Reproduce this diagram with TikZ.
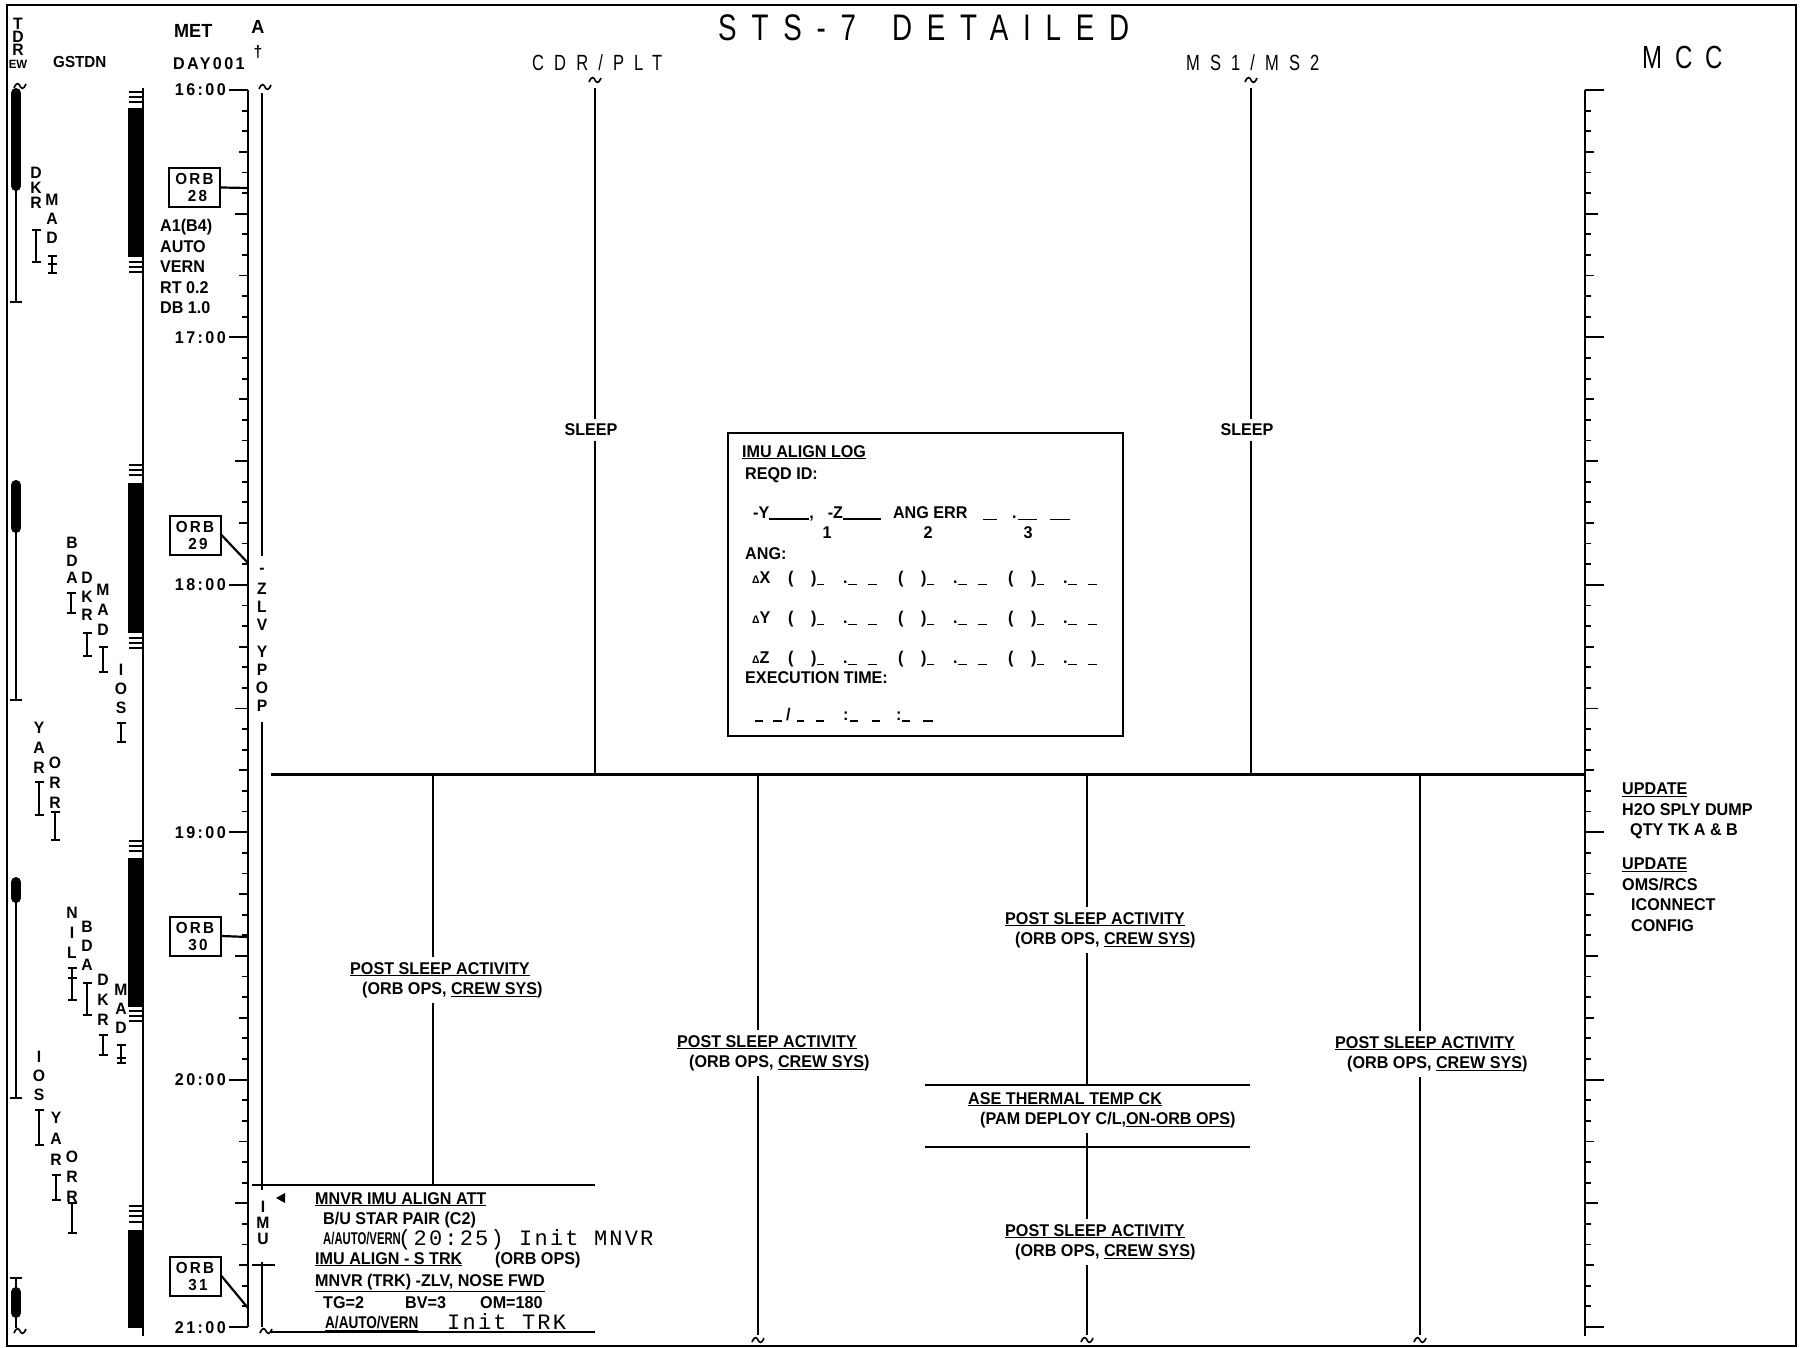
\documentclass[tikz,border=0pt]{standalone}
\usepackage{graphicx}
\usepackage{fontspec}
\setmainfont{Liberation Sans}
\newfontfamily\bodyfont[FakeStretch=0.95]{Liberation Sans}
\newfontfamily\orbfont[FakeStretch=0.95,LetterSpace=14]{Liberation Sans}
\newfontfamily\headfont[FakeStretch=0.75]{Liberation Sans}
\newfontfamily\typefont[LetterSpace=10]{Liberation Mono}
\newcommand\vlett[5]{\foreach \lt [count=\i from 0] in {#5}{\node[stn] (#1-\i) at (#2,#3+\i*#4) {\lt};}}
\newcommand\ibar[4]{%
  \coordinate (#4a) at (#1,#2); \coordinate (#4b) at (#1,#3);
  \draw[bar] (#4a) -- (#4b);
  \draw[bar] ([xshift=-4.5pt]#4a) -- ([xshift=4.5pt]#4a);
  \draw[bar] ([xshift=-4.5pt]#4b) -- ([xshift=4.5pt]#4b);}
\newcommand\eqm[1]{\foreach \q in {0,5,10}{\draw[line width=1.6pt] (129,#1+\q) -- (143,#1+\q);}}
\begin{document}
\begin{tikzpicture}[x=1pt,y=-1pt,
  stn/.style={font=\bodyfont\bfseries\fontsize{16.5}{16.5}\selectfont, inner sep=0pt},
  lbl/.style={font=\bodyfont\bfseries\fontsize{17}{20.5}\selectfont, inner sep=0pt, align=left},
  bar/.style={line width=2pt},
  ln/.style={line width=2.2pt},
  tk/.style={line width=1.8pt},
  rl/.style={line width=1.5pt},
  orb/.style={draw, line width=2pt, inner sep=0pt, minimum width=51pt, minimum height=39pt, align=center, font=\orbfont\bfseries\fontsize{16}{17}\selectfont},
  tildepic/.pic={\draw[line width=1.6pt] (-6,2) .. controls (-3,-5) and (-1,-2) .. (0,0) .. controls (1,2) and (3,5) .. (6,-2);},
  typ/.style={font=\typefont\fontsize{22}{22}\selectfont, inner sep=0pt}
]
\useasboundingbox (0,0) rectangle (1800,1348);
\draw[line width=2.5pt] (7,5) rectangle (1796,1346);

% ---------- headings ----------
\node[font=\headfont\addfontfeatures{LetterSpace=40}\fontsize{37}{37}\selectfont, inner sep=0pt, anchor=base west] (title) at (718,41) {STS-7\hspace{36pt}DETAILED};
\node[font=\headfont\addfontfeatures{LetterSpace=46}\fontsize{22}{22}\selectfont, inner sep=0pt, anchor=base west] (cdr) at (532,71) {CDR/PLT};
\node[font=\headfont\addfontfeatures{LetterSpace=46}\fontsize{22}{22}\selectfont, inner sep=0pt, anchor=base west] (ms) at (1186,71) {MS1/MS2};
\node[font=\headfont\addfontfeatures{LetterSpace=40}\fontsize{32}{32}\selectfont, inner sep=0pt, anchor=base west] (mcc) at (1642,69) {MCC};
\node[font=\bodyfont\bfseries\fontsize{19}{19}\selectfont, inner sep=0pt, anchor=base west] (met) at (174,38) {MET};
\node[font=\orbfont\bfseries\fontsize{17}{17}\selectfont, inner sep=0pt, anchor=base west] (day) at (173,70) {DAY001};
\node[font=\bodyfont\bfseries\fontsize{16}{16}\selectfont, inner sep=0pt, anchor=base west] (gstdn) at (53,68) {GSTDN};
\vlett{td}{18}{24}{13}{T,D,R}
\node[font=\bodyfont\bfseries\fontsize{12}{12}\selectfont, inner sep=0pt] (tdew) at (18,64) {EW};
\node[stn, font=\bodyfont\bfseries\fontsize{19}{19}\selectfont] (attA) at (258,27) {A};
\node[stn] (attB) at (258,52) {†};

% ---------- TDRS column ----------
\draw[line width=1.8pt] (16,90) -- (16,302);
\draw[line width=10pt, line cap=round] (16,93) -- (16,186);
\draw[line width=1.8pt] (10,302) -- (22,302);
\pic at (20,86) {tildepic};
\draw[line width=1.8pt] (16,480) -- (16,700);
\draw[line width=10pt, line cap=round] (16,485) -- (16,528);
\draw[line width=1.8pt] (10,700) -- (22,700);
\draw[line width=1.8pt] (16,878) -- (16,1098);
\draw[line width=10pt, line cap=round] (16,882) -- (16,898);
\draw[line width=1.8pt] (10,1098) -- (22,1098);
\draw[line width=1.8pt] (10,1278) -- (22,1278);
\draw[line width=1.8pt] (16,1278) -- (16,1328);
\draw[line width=10pt, line cap=round] (16,1292) -- (16,1313);
\pic at (20,1331) {tildepic};

% ---------- GSTDN column ----------
\draw[line width=2pt] (143,88) -- (143,1336);
\fill (128,108) rectangle (144,257);
\fill (128,483) rectangle (144,633);
\fill (128,858) rectangle (144,1007);
\fill (128,1230) rectangle (144,1328);
\eqm{92} \eqm{262} \eqm{465} \eqm{638} \eqm{841} \eqm{1011} \eqm{1206}
\draw[line width=1.6pt] (129,1222) -- (143,1222);

% ---------- ground stations ----------
\vlett{s1}{36}{173}{15}{D,K,R} \ibar{36}{230}{262}{b1}
\vlett{s2}{52}{200}{19}{M,A,D} \ibar{52}{256}{273}{b2}
\draw[bar] (47.5,264) -- (56.5,264);
\vlett{s3}{72}{543}{17.5}{B,D,A} \ibar{71}{593}{613}{b3}
\vlett{s4}{87}{578}{18.5}{D,K,R} \ibar{87}{633}{656}{b4}
\vlett{s5}{103}{590}{20}{M,A,D} \ibar{103}{647}{672}{b5}
\vlett{s6}{121}{670}{19}{I,O,S} \ibar{121}{723}{742}{b6}
\vlett{s7}{39}{728}{20}{Y,A,R} \ibar{39}{782}{815}{b7}
\vlett{s8}{55}{763}{20}{O,R,R} \ibar{55}{812}{840}{b8}
\vlett{s9}{72}{913}{20}{N,I,L} \ibar{72}{968}{1000}{b9}
\draw[bar] (67.5,978) -- (76.5,978);
\vlett{s10}{87}{927}{19}{B,D,A} \ibar{87}{983}{1015}{b10}
\vlett{s11}{103}{980}{20}{D,K,R} \ibar{103}{1035}{1055}{b11}
\vlett{s12}{121}{990}{19}{M,A,D} \ibar{121}{1045}{1063}{b12}
\draw[bar] (116.5,1058) -- (125.5,1058);
\vlett{s13}{39}{1057}{19}{I,O,S} \ibar{39}{1110}{1145}{b13}
\vlett{s14}{56}{1118}{21}{Y,A,R} \ibar{56}{1175}{1200}{b14}
\vlett{s15}{72}{1157}{20}{O,R,R} \ibar{72}{1203}{1233}{b15}

% ---------- MET axis and MCC axis ----------
\draw[line width=2.4pt] (248,90) -- (248,1327);
\draw[line width=2.4pt] (1585,90) -- (1585,1336);
\foreach \m in {0,5,...,300}{
  \pgfmathsetmacro\yy{90+\m*4.1233}
  \pgfmathsetmacro\len{ifthenelse(mod(\m,60)==0,19,ifthenelse(mod(\m,30)==0,13,ifthenelse(mod(\m,15)==0,9,6)))}
  \draw[tk] (248-\len,\yy) -- (248,\yy);
  \draw[tk] (1585,\yy) -- (1585+\len,\yy);
}
\foreach \h/\m in {16/0,17/60,18/120,19/180,20/240,21/300}{
  \node[lbl, font=\orbfont\bfseries\fontsize{17}{17}\selectfont, anchor=base east] (h\h) at (226,96+\m*4.1233) {\h:00};
}

% ---------- ORB boxes ----------
\node[orb] (orb28) at (194.5,187.5) {ORB\\\hspace*{6pt}28};
\node[orb] (orb29) at (195,535) {ORB\\\hspace*{6pt}29};
\node[orb] (orb30) at (195,936) {ORB\\\hspace*{6pt}30};
\node[orb] (orb31) at (195,1276) {ORB\\\hspace*{6pt}31};
\coordinate (a28) at (248,188);
\coordinate (a29) at (248,563);
\coordinate (a30) at (248,937);
\coordinate (a31) at (248,1308);
\draw[ln] (orb28.east) -- (a28);
\draw[ln] (orb29.east) -- (a29);
\draw[ln] (orb30.east) -- (a30);
\draw[ln] (orb31.east) -- (a31);
\node[lbl, anchor=north west, font=\bodyfont\bfseries\fontsize{17}{20.6}\selectfont] (att1) at (160,219) {A1(B4)\\AUTO\\VERN\\RT 0.2\\DB 1.0};

% ---------- attitude column ----------
\pic at (265,87) {tildepic};
\draw[ln] (262,93) -- (262,556);
\vlett{zl}{262}{571}{18}{-,Z,L,V}
\vlett{yp}{262}{652}{18}{Y,P,O,P}
\draw[ln] (262,722) -- (262,1190);
\vlett{imu}{263}{1207}{16}{I,M,U}
\draw[ln] (252,1265) -- (275,1265);
\draw[ln] (262,1262) -- (262,1327);
\pic at (266,1331) {tildepic};

% ---------- crew columns (sleep) ----------
\coordinate (cdrT) at (595,88);
\coordinate (cdrB) at (595,774);
\coordinate (msT) at (1251,88);
\coordinate (msB) at (1251,774);
\pic at (595,80) {tildepic};
\pic at (1251,80) {tildepic};
\node[lbl] (sl1) at (591,430) {SLEEP};
\node[lbl] (sl2) at (1247,430) {SLEEP};
\draw[ln] (cdrT) -- ([yshift=5pt]cdrT |- sl1.north);
\draw[ln] ([yshift=-5pt]cdrT |- sl1.south) -- (cdrB);
\draw[ln] (msT) -- ([yshift=5pt]msT |- sl2.north);
\draw[ln] ([yshift=-5pt]msT |- sl2.south) -- (msB);
\draw[line width=3pt] (271,774) -- (1585,774);

% ---------- IMU ALIGN LOG ----------
\node[draw, line width=2pt, minimum width=395pt, minimum height=303pt, inner sep=0pt, anchor=north west] (imubox) at (727,432) {};
\node[lbl, anchor=base west] (il1) at (742,457) {\underline{IMU ALIGN LOG}};
\node[lbl, anchor=base west] (il2) at (745,479) {REQD ID:};
\node[lbl, anchor=base west] (il3) at (753,518) {-Y\rule[-1.5pt]{40pt}{1.5pt},\hspace{14pt}-Z\rule[-1.5pt]{38pt}{1.5pt}\hspace{12pt}ANG ERR};
\draw[rl] (983,519.5) -- (997,519.5);
\node[lbl, anchor=base west] (il3d) at (1012,518) {.};
\draw[rl] (1018,519.5) -- (1037,519.5);
\draw[rl] (1050,519.5) -- (1070,519.5);
\node[lbl] (sub1) at (827,533) {1};
\node[lbl] (sub2) at (928,533) {2};
\node[lbl] (sub3) at (1028,533) {3};
\node[lbl, anchor=base west] (il4) at (745,559) {ANG:};
\foreach \yy/\ax in {583/X,623/Y,663/Z}{
  \node[lbl, anchor=base west] (d\ax) at (752,\yy) {{\fontsize{11}{11}\selectfont Δ}\ax};
  \foreach \g in {788,898,1008}{
    \node[lbl, anchor=base west] (po\ax\g) at (\g,\yy) {(};
    \node[lbl, anchor=base west] (pc\ax\g) at (\g+23,\yy) {)};
    \draw[rl] (\g+29,\yy+1.5) -- (\g+36,\yy+1.5);
    \node[lbl, anchor=base west] (pd\ax\g) at (\g+55,\yy) {.};
    \draw[rl] (\g+60,\yy+1.5) -- (\g+69,\yy+1.5);
    \draw[rl] (\g+80,\yy+1.5) -- (\g+89,\yy+1.5);
  }
}
\node[lbl, anchor=base west] (il5) at (745,683) {EXECUTION TIME:};
\foreach \a/\b in {755/763,773/782,797/804,816/824,850/858,872/880,902/910,923/933}{
  \draw[rl] (\a,721) -- (\b,721);
}
\node[lbl, anchor=base west] (ts1) at (786,720) {/};
\node[lbl, anchor=base west] (ts2) at (843,720) {:};
\node[lbl, anchor=base west] (ts3) at (896,720) {:};

% ---------- lower activity columns ----------
\node[lbl, anchor=north west] (ps1) at (350,962) {\underline{POST SLEEP ACTIVITY}\\\hspace*{12pt}(ORB OPS, \underline{CREW SYS})};
\node[lbl, anchor=north west] (ps2) at (677,1035) {\underline{POST SLEEP ACTIVITY}\\\hspace*{12pt}(ORB OPS, \underline{CREW SYS})};
\node[lbl, anchor=north west] (ps3) at (1005,912) {\underline{POST SLEEP ACTIVITY}\\\hspace*{10pt}(ORB OPS, \underline{CREW SYS})};
\node[lbl, anchor=north west] (ps4) at (1005,1224) {\underline{POST SLEEP ACTIVITY}\\\hspace*{10pt}(ORB OPS, \underline{CREW SYS})};
\node[lbl, anchor=north west] (ps5) at (1335,1036) {\underline{POST SLEEP ACTIVITY}\\\hspace*{12pt}(ORB OPS, \underline{CREW SYS})};
\node[lbl, anchor=north west] (ase) at (968,1092) {\underline{ASE THERMAL TEMP CK}\\\hspace*{12pt}(PAM DEPLOY C/L,\underline{ON-ORB OPS})};

\coordinate (c1) at (433,774);
\coordinate (c2) at (758,774);
\coordinate (c3) at (1087,774);
\coordinate (c4) at (1420,774);
\draw[ln] (c1) -- ([yshift=5pt]c1 |- ps1.north);
\draw[ln] ([yshift=-5pt]c1 |- ps1.south) -- (433,1185);
\draw[ln] (c2) -- ([yshift=5pt]c2 |- ps2.north);
\draw[ln] ([yshift=-5pt]c2 |- ps2.south) -- (758,1335);
\pic at (758,1340) {tildepic};
\draw[ln] (c3) -- ([yshift=5pt]c3 |- ps3.north);
\draw[ln] ([yshift=-5pt]c3 |- ps3.south) -- (1087,1085);
\draw[ln] (925,1085) -- (1250,1085);
\draw[ln] (925,1147) -- (1250,1147);
\draw[ln] ([yshift=-5pt]c3 |- ase.south) -- ([yshift=5pt]c3 |- ps4.north);
\draw[ln] ([yshift=-5pt]c3 |- ps4.south) -- (1087,1335);
\pic at (1087,1340) {tildepic};
\draw[ln] (c4) -- ([yshift=5pt]c4 |- ps5.north);
\draw[ln] ([yshift=-5pt]c4 |- ps5.south) -- (1420,1335);
\pic at (1420,1340) {tildepic};

% ---------- MNVR block ----------
\draw[ln] (252,1185) -- (595,1185);
\draw[ln] (270,1332) -- (595,1332);
\fill (276,1198) -- (285,1193) -- (285,1203) -- cycle;
\node[lbl, anchor=base west] (m1) at (315,1204) {\underline{MNVR IMU ALIGN ATT}};
\node[lbl, anchor=base west] (m2) at (323,1224) {B/U STAR PAIR (C2)};
\node[lbl, anchor=base west] (m3) at (323,1244) {\scalebox{0.7}[1]{A/AUTO/VERN}};
\node[typ, anchor=base west] (m3b) at (398,1245) {(20:25) Init MNVR};
\node[lbl, anchor=base west] (m4) at (315,1264) {\makebox[180pt][l]{\underline{IMU ALIGN - S TRK}}(ORB OPS)};
\node[lbl, anchor=base west] (m5) at (315,1286) {\underline{MNVR (TRK) -ZLV, NOSE FWD}};
\node[lbl, anchor=base west] (m6) at (323,1308) {\makebox[82pt][l]{TG=2}\makebox[75pt][l]{BV=3}OM=180};
\node[lbl, anchor=base west] (m7) at (325,1328) {\underline{\scalebox{0.84}[1]{A/AUTO/VERN}}};
\node[typ, anchor=base west] (m7b) at (447,1329) {Init TRK};

% ---------- MCC notes ----------
\node[lbl, anchor=north west] (mc1) at (1622,783) {\underline{UPDATE}\\H2O SPLY DUMP\\\hspace*{8pt}QTY TK A \& B};
\node[lbl, anchor=north west] (mc2) at (1622,858) {\underline{UPDATE}\\OMS/RCS\\\hspace*{9pt}ICONNECT\\\hspace*{9pt}CONFIG};
\end{tikzpicture}
\end{document}
